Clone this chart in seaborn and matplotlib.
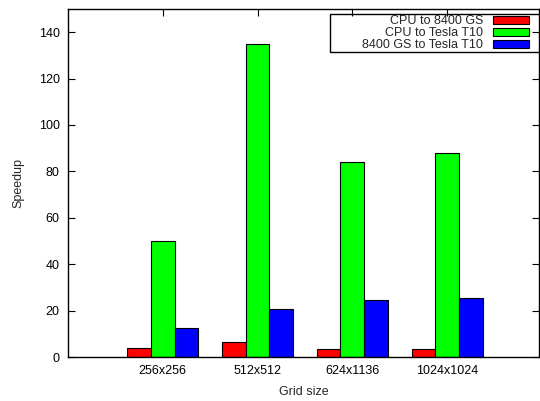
import matplotlib
matplotlib.use("Agg")
import matplotlib.pyplot as plt
from matplotlib.patches import Rectangle
import seaborn as sns
import pandas as pd

categories = ["256x256", "512x512", "624x1136", "1024x1024"]
series = ["CPU to 8400 GS", "CPU to Tesla T10", "8400 GS to Tesla T10"]
cpu_to_8400 = [4.0, 6.5, 3.5, 3.5]
cpu_to_t10 = [50.0, 135.0, 84.0, 88.0]
gs_to_t10 = [12.5, 20.5, 24.5, 25.5]
colors = ["#ff0000", "#00ff00", "#0000ff"]

rows = []
for s, vals in zip(series, [cpu_to_8400, cpu_to_t10, gs_to_t10]):
    for c, v in zip(categories, vals):
        rows.append({"Grid size": c, "Speedup": v, "Series": s})
df = pd.DataFrame(rows)

sns.set_theme(style="ticks")
plt.rcParams['font.family'] = ['Liberation Sans', 'DejaVu Sans']
plt.rcParams['font.size'] = 9

fig = plt.figure(figsize=(5.4, 4.01), dpi=100)
ax = fig.add_axes([68/540, 1-357/401, (539-68)/540, (357-9)/401])

sns.barplot(data=df, x="Grid size", y="Speedup", hue="Series", order=categories,
            hue_order=series, palette=colors, width=0.75, edgecolor="black",
            linewidth=0.8, saturation=1, ax=ax)

ax.set_xlim(-1.0, 3.97)
ax.set_ylim(0, 150)
ax.set_yticks(range(0, 141, 20))
ax.tick_params(direction="in", length=5, width=0.8, top=True, right=True,
               labelsize=9, colors="black", pad=6)
for sp in ax.spines.values():
    sp.set_visible(True)
    sp.set_color("black")
    sp.set_linewidth(1)
ax.set_xlabel("Grid size", fontsize=9, labelpad=6)
ax.set_ylabel("Speedup", fontsize=9, labelpad=10)

leg = ax.legend(loc="upper right", bbox_to_anchor=(529/540, 1-15.5/401),
                bbox_transform=fig.transFigure, markerfirst=False,
                frameon=False, fontsize=9,
                handlelength=2.9, handleheight=0.55, labelspacing=0.0,
                borderpad=0, borderaxespad=0, handletextpad=0.75)
for h in leg.legend_handles:
    h.set_edgecolor("black")
    h.set_linewidth(0.8)

box = Rectangle((330/540, 1-52/401), (541-330)/540, (52-14)/401,
                transform=fig.transFigure, facecolor="none", edgecolor="black",
                linewidth=1, zorder=10)
fig.add_artist(box)

fig.savefig("out.png", dpi=100)
